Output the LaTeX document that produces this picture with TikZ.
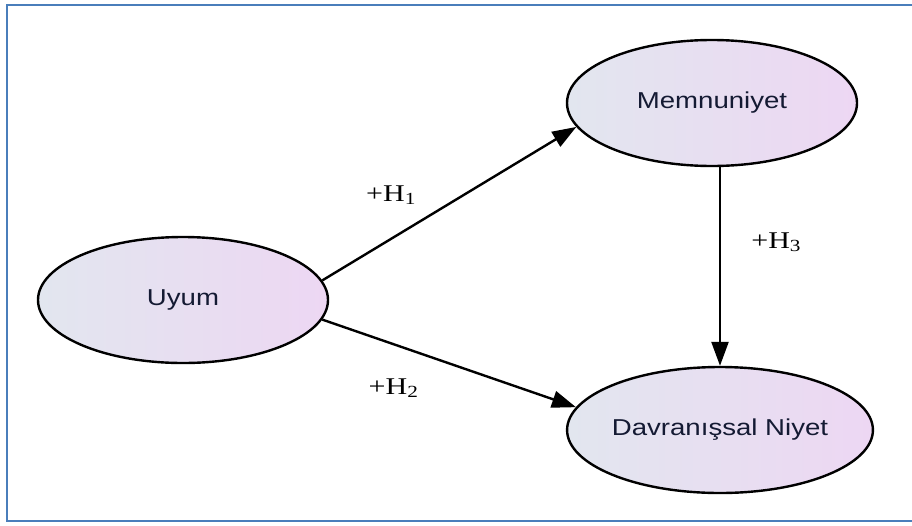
\documentclass[tikz,border=0pt]{standalone}
\usepackage{fontspec}
\usetikzlibrary{shapes.geometric,arrows.meta}
\newfontfamily\etiketfont[FakeStretch=1.2]{Liberation Sans}
\newfontfamily\hipotezfont[FakeStretch=1.25]{Liberation Serif}
\definecolor{cerceve}{HTML}{4A7EBB}
\definecolor{solrenk}{HTML}{E2E6EF}
\definecolor{sagrenk}{HTML}{EDD7F3}
\definecolor{yazi}{HTML}{141A33}
\newcommand{\hip}[1]{+H{\fontsize{17}{17}\selectfont\raisebox{-3pt}{#1}}}

\begin{document}
\begin{tikzpicture}[x=1pt, y=-1pt,
        degisken/.style={ellipse, draw=black, line width=2.4pt, left color=solrenk, right color=sagrenk,
            minimum width=290pt, minimum height=126pt, inner sep=0pt, text=yazi,
            font=\etiketfont\fontsize{23}{27}\selectfont},
        ok/.style={line width=2.4pt, -{Triangle[length=24pt,width=17pt]}},
        hipotez/.style={font=\hipotezfont\fontsize{24}{27}\selectfont}]
        \useasboundingbox (0,0) rectangle (912,525);
        \draw[cerceve, line width=2.5pt] (912,5) -- (7,5) -- (7,521) -- (912,521);

        \node[degisken](Memnuniyet) at (712,103) {Memnuniyet};
        \node[degisken](Uyum) at (183,300) {Uyum};
        \node[degisken](Davranis) at (720,430) {Davranışsal Niyet};

        \draw[ok] (Uyum.8) -- node[hipotez, pos=0.27, yshift=44pt]{\hip{1}} (Memnuniyet.190);
        \draw[ok] (Uyum.352) -- node[hipotez, pos=0.28, yshift=-44pt]{\hip{2}} (Davranis.171);
        \draw[ok] (Memnuniyet.south -| Davranis.north) -- node[hipotez, pos=0.38, xshift=56pt]{\hip{3}} (Davranis.north);
    \end{tikzpicture}
\end{document}
